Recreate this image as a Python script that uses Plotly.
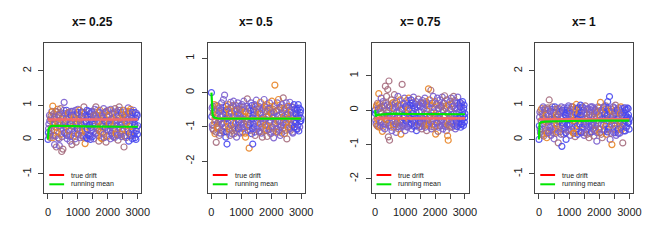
import plotly.graph_objects as go

# ---------------- data ----------------
TITLES = ["x= 0.25", "x= 0.5", "x= 0.75", "x= 1"]
ITERATIONS = list(range(0, 3001, 20))        # even-block samples
ITERATIONS_MID = list(range(10, 3000, 20))   # samples in between

SAMPLES_1 = [
    0.00, 0.32, 0.10, 0.55, 0.05, 0.68, 0.25, 0.80, 0.97, 0.12,
    0.60, -0.15, 0.45, 0.82, -0.22, 0.35, 0.88, 0.05, 0.70, -0.18,
    0.50, 0.90, 0.15, -0.35, 0.62, -0.28, 0.30, 1.08, 0.20, 0.75,
    0.38, 0.85, 0.02, 0.58, 0.78, 0.12, 0.65, -0.05, 0.45, 0.82,
    -0.15, 0.40, 0.72, 0.10, 0.60, 0.25, 0.85, -0.08, 0.50, 0.30,
    0.88, 0.15, 0.55, 0.72, 0.05, 0.42, 0.80, 0.25, 0.62, 0.10,
    0.95, 0.30, -0.12, 0.68, 0.50, 0.85, 0.02, 0.58, 0.12, 0.40,
    0.75, 0.00, 0.35, 0.82, 0.08, 0.55, 0.20, 0.70, 0.88, 0.45,
    0.95, 0.18, 0.62, 0.30, 0.78, -0.05, 0.52, 0.85, 0.22, 0.60,
    0.02, 0.72, 0.38, 0.90, 0.05, 0.55, 0.80, -0.08, 0.28, 0.65,
    0.85, 0.45, 0.10, 0.70, 0.25, 0.88, 0.40, 0.12, 0.75, 0.32,
    0.62, 0.05, 0.90, 0.48, 0.15, 0.80, 0.55, -0.02, 0.68, 0.95,
    0.20, 0.85, 0.42, 0.08, 0.72, 0.30, 0.58, -0.22, 0.50, 0.10,
    0.65, 0.82, 0.25, 0.58, 0.92, -0.05, 0.75, 0.38, 0.88, 0.12,
    0.62, 0.02, 0.52, 0.85, 0.18, 0.45, 0.78, 0.00, 0.35, 0.70,
    0.40,
]
SAMPLES_MID_1 = [
    0.20, 0.45, 0.70, 0.15, 0.60, 0.35, 0.82, 0.05, 0.50, 0.75,
    0.28, 0.65, 0.10, 0.55, 0.80, 0.22, 0.48, 0.72, 0.02, 0.40,
    0.78, 0.30, 0.58, 0.08, 0.68, 0.42, 0.85, 0.18, 0.52, 0.35,
    0.62, 0.12, 0.75, 0.40, 0.25, 0.80, 0.48, 0.08, 0.70, 0.30,
    0.55, 0.82, 0.20, 0.65, 0.38, 0.02, 0.72, 0.45, 0.15, 0.78,
    0.32, 0.60, 0.85, 0.25, 0.50, 0.12, 0.68, 0.40, 0.78, 0.05,
    0.48, 0.75, 0.22, 0.55, 0.05, 0.30, 0.65, 0.15, 0.82, 0.42,
    0.10, 0.58, 0.80, 0.28, 0.45, 0.72, 0.02, 0.38, 0.62, 0.18,
    0.70, 0.35, 0.85, 0.12, 0.52, 0.25, 0.78, 0.40, 0.05, 0.68,
    0.45, 0.20, 0.62, 0.15, 0.78, 0.35, 0.50, 0.82, 0.10, 0.55,
    0.25, 0.72, 0.48, 0.85, 0.02, 0.60, 0.18, 0.75, 0.40, 0.08,
    0.80, 0.30, 0.55, 0.20, 0.70, 0.42, 0.12, 0.85, 0.35, 0.62,
    0.50, 0.15, 0.78, 0.45, 0.25, 0.65, 0.85, 0.10, 0.72, 0.38,
    0.05, 0.48, 0.62, 0.30, 0.80, 0.18, 0.55, 0.82, 0.22, 0.68,
    0.30, 0.78, 0.12, 0.58, 0.40, 0.05, 0.62, 0.25, 0.75, 0.15,
]
SAMPLES_2 = [
    0.00, -0.45, -1.05, -0.60, -0.95, -0.35, -1.20, -0.80, -1.45, -0.50,
    -1.00, -0.40, -0.85, -1.25, -0.55, -0.70, -1.10, -0.30, -0.90, -0.65,
    -0.20, -1.15, -0.07, -0.75, -1.30, -0.50, -1.50, -0.85, -0.35, -1.05,
    -0.60, -1.25, -0.28, -0.95, -0.45, -1.10, -0.70, -0.25, -1.20, -0.55,
    -0.90, -0.38, -1.30, -0.65, -0.30, -1.05, -0.80, -0.48, -1.18, -0.60,
    -0.95, -0.35, -1.15, -0.70, -0.25, -1.00, -0.55, -1.30, -0.82, -0.40,
    -0.18, -1.10, -0.60, -1.62, -0.45, -0.90, -0.30, -1.20, -0.75, -1.50,
    -0.50, -1.00, -0.35, -1.25, -0.68, -0.22, -1.05, -0.58, -0.88, -0.40,
    -1.15, -0.62, -0.28, -1.02, -0.75, -1.30, -0.45, -0.85, -0.20, -1.10,
    -0.55, -0.95, -0.35, -1.28, -0.70, -0.48, -1.08, -0.30, -0.80, -1.20,
    -0.60, -0.25, -1.00, -0.72, -1.32, -0.40, 0.22, -0.90, -0.55, -1.15,
    -0.30, -0.85, -0.20, -1.10, -0.65, -1.25, -0.45, -0.95, -0.35, -1.05,
    -0.15, -0.70, -1.20, -0.50, -0.88, -0.30, -1.35, -0.62, -1.00, -0.40,
    -0.80, -0.28, -1.10, -0.58, -0.95, -0.42, -1.18, -0.70, -0.35, -1.00,
    -0.60, -0.90, -0.45, -1.05, -0.75, -0.35, -1.12, -0.65, -0.85, -0.50,
    -0.75,
]
SAMPLES_MID_2 = [
    -0.70, -0.95, -0.40, -1.10, -0.55, -0.85, -0.65, -1.15, -0.38, -0.90,
    -0.60, -1.05, -0.45, -0.80, -1.18, -0.50, -0.92, -0.68, -1.12, -0.42,
    -0.88, -0.55, -1.00, -0.62, -0.40, -1.15, -0.75, -0.48, -0.98, -0.70,
    -1.08, -0.45, -0.82, -0.58, -1.20, -0.38, -0.90, -0.65, -1.02, -0.52,
    -0.72, -1.12, -0.48, -0.95, -0.60, -0.85, -0.40, -1.15, -0.68, -0.88,
    -0.50, -0.78, -1.05, -0.42, -0.92, -0.62, -1.18, -0.55, -0.75, -1.00,
    -0.85, -0.45, -0.95, -0.70, -1.10, -0.52, -0.80, -0.38, -1.05, -0.65,
    -0.92, -0.58, -1.15, -0.40, -0.82, -0.68, -1.00, -0.48, -0.75, -1.12,
    -0.45, -0.90, -0.62, -1.18, -0.50, -0.85, -0.72, -1.05, -0.40, -0.95,
    -0.78, -0.42, -1.10, -0.55, -0.98, -0.65, -0.88, -0.45, -1.15, -0.60,
    -1.00, -0.70, -0.48, -1.12, -0.58, -0.92, -0.38, -0.80, -1.05, -0.52,
    -0.68, -1.15, -0.50, -0.85, -0.42, -1.00, -0.72, -1.18, -0.60, -0.88,
    -0.95, -0.45, -0.78, -1.10, -0.55, -0.88, -0.65, -0.40, -1.02, -0.75,
    -0.52, -1.05, -0.68, -0.92, -0.42, -1.15, -0.60, -0.85, -1.00, -0.48,
    -0.88, -0.62, -1.08, -0.50, -0.95, -0.70, -0.45, -1.00, -0.58, -0.82,
]
SAMPLES_3 = [
    0.00, -0.30, 0.10, -0.45, 0.20, -0.20, 0.48, -0.50, 0.05, -0.35,
    0.35, -0.10, -0.62, 0.25, -0.40, 0.15, -0.55, 0.70, -0.25, 0.40,
    -0.15, 0.60, -0.78, 0.85, -0.88, 0.12, -0.45, 0.30, -0.60, 0.05,
    0.22, -0.50, 0.45, -0.30, 0.10, -0.65, 0.25, -0.20, 0.40, -0.55,
    0.15, -0.35, 0.30, -0.70, 0.05, 0.75, -0.45, 0.20, -0.15, 0.35,
    -0.60, 0.10, -0.30, 0.28, -0.50, 0.00, 0.35, -0.40, 0.15, -0.25,
    0.30, -0.55, 0.20, -0.10, 0.38, -0.45, 0.05, -0.30, 0.25, -0.60,
    0.10, -0.20, 0.32, -0.50, 0.15, -0.35, 0.22, -0.05, -0.55, 0.28,
    -0.25, 0.18, -0.45, 0.35, -0.10, 0.25, -0.60, 0.12, -0.30, 0.62,
    -0.40, 0.30, -0.15, 0.58, -0.55, 0.20, -0.30, 0.40, -0.05, -0.50,
    0.25, -0.70, 0.15, -0.35, 0.35, -0.62, 0.05, -0.25, 0.30, -0.45,
    0.10, -0.30, 0.38, -0.55, 0.20, -0.15, 0.42, -0.40, 0.05, -0.60,
    0.30, -0.75, -0.88, 0.15, -0.45, 0.25, -0.20, 0.35, -0.50, 0.10,
    -0.30, 0.40, -0.10, 0.28, -0.55, 0.20, -0.35, 0.05, 0.38, -0.45,
    0.15, -0.25, 0.22, -0.50, 0.10, -0.40, 0.25, -0.15, 0.05, -0.35,
    -0.10,
]
SAMPLES_MID_3 = [
    -0.10, -0.40, 0.15, -0.25, -0.48, 0.05, -0.30, 0.18, -0.45, -0.05,
    -0.35, 0.10, -0.20, -0.50, 0.12, -0.15, -0.42, 0.20, -0.28, -0.08,
    0.15, -0.38, -0.02, -0.45, 0.08, -0.22, -0.50, 0.18, -0.32, -0.12,
    -0.42, 0.05, -0.18, 0.20, -0.40, -0.08, -0.35, 0.12, -0.48, -0.20,
    -0.05, -0.45, 0.15, -0.28, -0.50, 0.02, -0.38, 0.18, -0.22, -0.42,
    0.10, -0.32, -0.10, -0.48, 0.15, -0.25, 0.05, -0.45, -0.15, 0.20,
    -0.40, -0.02, -0.30, 0.12, -0.48, -0.18, 0.18, -0.35, -0.08, -0.45,
    -0.25, 0.15, -0.42, -0.05, -0.32, 0.10, -0.48, -0.20, 0.20, -0.38,
    0.05, -0.30, -0.12, -0.50, 0.15, -0.40, -0.02, -0.28, 0.18, -0.45,
    -0.18, 0.12, -0.35, -0.08, -0.48, 0.20, -0.25, -0.42, 0.08, -0.15,
    -0.45, -0.10, 0.18, -0.38, -0.22, 0.05, -0.50, -0.12, -0.32, 0.15,
    -0.28, 0.10, -0.45, -0.02, -0.35, 0.20, -0.18, -0.48, 0.12, -0.30,
    -0.08, -0.42, 0.15, -0.25, -0.50, 0.02, -0.35, -0.12, 0.18, -0.40,
    0.12, -0.20, -0.45, 0.05, -0.30, -0.10, -0.48, 0.20, -0.25, -0.05,
    -0.38, 0.10, -0.15, -0.42, 0.18, -0.28, -0.05, -0.45, 0.15, -0.22,
]
SAMPLES_4 = [
    0.00, 0.65, 0.30, 0.85, 0.15, 0.75, 0.45, 0.95, 0.10, 0.60,
    0.90, 0.25, 0.70, 0.05, 0.55, 0.88, 0.20, 1.15, 0.35, 0.80,
    0.12, 0.68, 0.95, 0.28, 0.78, 0.02, 0.60, 0.88, 0.18, 0.72,
    0.40, 0.90, -0.10, 0.55, 0.82, 0.22, 0.65, 0.95, -0.20, 0.48,
    0.78, 0.15, 0.92, 0.35, 0.70, 0.00, 0.58, 0.85, 0.25, 0.98,
    0.42, 0.75, 0.12, 0.88, 0.30, 0.65, 0.95, 0.18, 0.55, 0.80,
    0.08, 0.72, 1.02, 0.38, 0.60, 0.92, 0.25, 0.78, 0.45, 1.00,
    0.20, 0.68, 0.95, 0.32, 0.85, 0.12, 0.62, 0.98, 0.40, 0.75,
    0.15, 0.88, 0.50, 0.05, 0.80, 0.35, 0.95, 0.22, 0.70, 0.42,
    0.90, 0.10, 0.65, 0.85, 0.28, 0.78, -0.05, 0.55, 0.95, 0.30,
    0.72, 0.20, 1.08, 0.45, 0.85, 0.05, 0.62, 0.92, 0.25, 0.75,
    0.38, 0.98, 0.15, 0.70, 1.10, 0.30, 0.82, 1.25, 0.00, 0.65,
    0.88, -0.15, 0.55, 0.95, 0.20, 0.78, 0.40, 1.00, 0.12, 0.68,
    0.85, 0.30, 0.92, 0.50, 0.18, 0.75, 0.95, 0.35, 0.62, -0.10,
    0.80, 0.45, 0.92, 0.25, 0.70, 0.88, 0.38, 0.65, 0.90, 0.50,
    0.60,
]
SAMPLES_MID_4 = [
    0.40, 0.80, 0.20, 0.55, 0.90, 0.30, 0.70, 0.15, 0.62, 0.85,
    0.35, 0.75, 0.50, 0.18, 0.92, 0.42, 0.68, 0.25, 0.82, 0.58,
    0.88, 0.38, 0.60, 0.20, 0.78, 0.48, 0.95, 0.30, 0.65, 0.45,
    0.22, 0.72, 0.52, 0.90, 0.35, 0.80, 0.15, 0.60, 0.85, 0.40,
    0.65, 0.30, 0.85, 0.50, 0.20, 0.78, 0.42, 0.92, 0.58, 0.28,
    0.82, 0.45, 0.68, 0.25, 0.95, 0.38, 0.72, 0.55, 0.18, 0.88,
    0.50, 0.90, 0.30, 0.75, 0.15, 0.62, 0.85, 0.40, 0.70, 0.22,
    0.80, 0.35, 0.58, 0.92, 0.45, 0.20, 0.78, 0.52, 0.88, 0.28,
    0.62, 0.90, 0.38, 0.72, 0.18, 0.55, 0.85, 0.42, 0.95, 0.30,
    0.50, 0.75, 0.25, 0.88, 0.40, 0.65, 0.20, 0.82, 0.48, 0.92,
    0.32, 0.68, 0.85, 0.15, 0.58, 0.78, 0.42, 0.95, 0.28, 0.62,
    0.88, 0.45, 0.72, 0.22, 0.90, 0.55, 0.35, 0.80, 0.60, 0.18,
    0.42, 0.82, 0.30, 0.68, 0.92, 0.48, 0.20, 0.75, 0.55, 0.88,
    0.60, 0.18, 0.78, 0.38, 0.85, 0.52, 0.28, 0.70, 0.90, 0.45,
    0.25, 0.68, 0.55, 0.85, 0.35, 0.62, 0.92, 0.48, 0.72, 0.30,
]

# chain state of each 20-iteration block (b = blue, p = purple, m = mauve, o = orange)
STATE_1 = ("bpppmmpoom" "mppmmoompp" "mmommmpppp" "pbpoomppbp" "mppooppmpb"
           "poomppbppm" "moopbbbpbb" "bbbpbppmpb" "mpppmmpoop" "oomppbpmmp"
           "pmooppbpmp" "ppmooppmpm" "ppbpmoompp" "mooppbpoom" "pbppbbbbpb" "b")
STATE_2 = ("bppmmoommp" "oommppmppp" "pmppbbboom" "ompppmppmo" "ompppbpmpp"
           "mppmppoomp" "mpoomppbbb" "bbpmpppmpp" "mooppmpppm" "poomompppm"
           "oomppmoppm" "poomppmppp" "moomppmpoo" "ppmompppbb" "pbpbbbbpbb" "b")
STATE_3 = ("bpoompoomp" "pmoppmpmom" "pmmmmppmpp" "oompppmppm" "pmoopmppbp"
           "pbbppooppb" "bpbbpbbppb" "bpmppbppmp" "ppmppmmppo" "oopmppmppm"
           "oomppmpppm" "pmppppmpmp" "mooompppmp" "pmpmppbppp" "pbbbpbbbbb" "b")
STATE_4 = ("bppmomppmp" "pmoommpmpp" "ppmpppbpmo" "ommmmpppbb" "pmppbbbbpp"
           "bbpmppmoop" "moobbboobb" "bbbpbppmpp" "mppmmppbpp" "pmppmmpppm"
           "poompmpppb" "omobbbbbpm" "oomppmpmpp" "bbpmpoompm" "ppbbbbpbbb" "b")

TRUE_DRIFT = [0.58, -0.75, -0.24, 0.59]

RM_ITER_1 = [0, 20, 60, 100, 200, 400, 800, 1200, 1600, 2000, 2400, 3000]
RM_VAL_1 = [0.0, 0.30, 0.36, 0.39, 0.40, 0.39, 0.39, 0.38, 0.37, 0.37, 0.37, 0.37]
RM_ITER_2 = [0, 20, 40, 60, 100, 200, 400, 1000, 3000]
RM_VAL_2 = [0.0, -0.50, -0.65, -0.70, -0.73, -0.75, -0.76, -0.76, -0.76]
RM_ITER_3 = [0, 20, 60, 300, 600, 1000, 2000, 3000]
RM_VAL_3 = [0.0, -0.18, -0.14, -0.12, -0.10, -0.11, -0.12, -0.12]
RM_ITER_4 = [0, 20, 60, 200, 600, 1000, 2000, 3000]
RM_VAL_4 = [0.0, 0.46, 0.50, 0.52, 0.53, 0.54, 0.55, 0.55]

Y_RANGES = [[-1.55, 2.8], [-2.92, 1.44], [-2.41, 1.95], [-1.55, 2.8]]
Y_TICKS = [[-1, 0, 1, 2], [-2, -1, 0, 1], [-2, -1, 0, 1], [-1, 0, 1, 2]]
Y_TICKTEXT = [["-1", "0", "1", "2"], ["-2", "-1", "0", "1"],
              ["-2", "-1", "0", "1"], ["-1", "0", "1", "2"]]
X_TICKS = [0, 500, 1000, 1500, 2000, 2500, 3000]
X_TICKTEXT = ["0", "", "1000", "", "2000", "", "3000"]
LEGEND_LABELS = ["true drift", "running mean"]

# ---------------- style ----------------
STATE_COLORS = {
    "b": "rgb(72,72,240)",
    "p": "rgb(122,94,206)",
    "m": "rgb(165,108,125)",
    "o": "rgb(232,132,38)",
}
W, H = 664, 249
PANEL_PX = [(45, 143.3), (210.7, 309), (376.7, 475), (542.7, 641.7)]
TOP_PX, BOT_PX = 43.3, 192.7
FONT = "Liberation Sans, Arial, Helvetica, sans-serif"
AXIS_COL = "#444444"

samples = [SAMPLES_1, SAMPLES_2, SAMPLES_3, SAMPLES_4]
samples_mid = [SAMPLES_MID_1, SAMPLES_MID_2, SAMPLES_MID_3, SAMPLES_MID_4]
states = [STATE_1, STATE_2, STATE_3, STATE_4]
rm_iters = [RM_ITER_1, RM_ITER_2, RM_ITER_3, RM_ITER_4]
rm_vals = [RM_VAL_1, RM_VAL_2, RM_VAL_3, RM_VAL_4]

fig = go.Figure()
layout = dict(
    width=W, height=H, margin=dict(l=0, r=0, t=0, b=0),
    paper_bgcolor="white", plot_bgcolor="white", showlegend=False,
    font=dict(family=FONT, size=11, color="#222222"),
)
annotations = []
shapes = []

for i in range(4):
    sfx = "" if i == 0 else str(i + 1)
    xa, ya = "x" + sfx, "y" + sfx
    # interleave block samples and mid-block samples in iteration order
    xs, ys, cs = [], [], []
    for k, it in enumerate(ITERATIONS):
        if k < len(samples[i]):
            xs.append(it); ys.append(samples[i][k]); cs.append(STATE_COLORS[states[i][k]])
        if k < len(ITERATIONS_MID) and k < len(samples_mid[i]):
            xs.append(ITERATIONS_MID[k]); ys.append(samples_mid[i][k])
            cs.append(STATE_COLORS[states[i][k]])
    fig.add_trace(go.Scatter(
        x=xs, y=ys, xaxis=xa, yaxis=ya, mode="markers",
        marker=dict(symbol="circle-open", size=6, color=cs, opacity=0.9,
                    line=dict(width=1.2)),
        hoverinfo="skip"))
    fig.add_trace(go.Scatter(
        x=[ITERATIONS[0], ITERATIONS[-1]], y=[TRUE_DRIFT[i], TRUE_DRIFT[i]],
        xaxis=xa, yaxis=ya, mode="lines",
        line=dict(color="#F46A6A", width=2.6), hoverinfo="skip"))
    fig.add_trace(go.Scatter(
        x=rm_iters[i], y=rm_vals[i], xaxis=xa, yaxis=ya, mode="lines",
        line=dict(color="#00E600", width=2.2), hoverinfo="skip"))

    x0, x1 = PANEL_PX[i]
    layout["xaxis" + sfx] = dict(
        domain=[x0 / W, x1 / W], anchor=ya, range=[-120, 3120],
        tickvals=X_TICKS, ticktext=X_TICKTEXT, ticks="outside", ticklen=5,
        tickwidth=1, tickcolor=AXIS_COL, showline=True, linecolor=AXIS_COL,
        linewidth=1, mirror=True, showgrid=False, zeroline=False,
        ticklabelstandoff=4, tickfont=dict(size=11, color="#222222"))
    layout["yaxis" + sfx] = dict(
        domain=[1 - BOT_PX / H, 1 - TOP_PX / H], anchor=xa, range=Y_RANGES[i],
        tickvals=Y_TICKS[i], ticktext=Y_TICKTEXT[i], ticks="outside", ticklen=5,
        tickwidth=1, tickcolor=AXIS_COL, showline=True, linecolor=AXIS_COL,
        linewidth=1, mirror=True, showgrid=False, zeroline=False,
        tickangle=-90, ticklabelstandoff=3, tickfont=dict(size=11, color="#222222"))

    annotations.append(dict(
        text="<b>%s</b>" % TITLES[i], xref="paper", yref="paper",
        x=(x0 + x1) / 2 / W, y=1 - 22 / H, xanchor="center", yanchor="middle",
        showarrow=False, font=dict(size=12, color="#111111")))

    # legend inside panel (bottom-left)
    pw = x1 - x0
    ph = BOT_PX - TOP_PX
    for k, (col, ypx) in enumerate([("#FF0000", 175.0), ("#00E600", 184.3)]):
        yd = (BOT_PX - ypx) / ph
        shapes.append(dict(type="line", xref=xa + " domain", yref=ya + " domain",
                           x0=5 / pw, x1=20 / pw, y0=yd, y1=yd,
                           line=dict(color=col, width=2)))
        annotations.append(dict(
            text=LEGEND_LABELS[k], xref=xa + " domain", yref=ya + " domain",
            x=25 / pw, y=yd, xanchor="left", yanchor="middle", showarrow=False,
            font=dict(size=7, color="#222222")))

layout["annotations"] = annotations
layout["shapes"] = shapes
fig.update_layout(**layout)
fig.write_html("out.html", config={"displayModeBar": False, "staticPlot": True},
               post_script="document.body.style.margin='0';document.body.style.padding='0';")
